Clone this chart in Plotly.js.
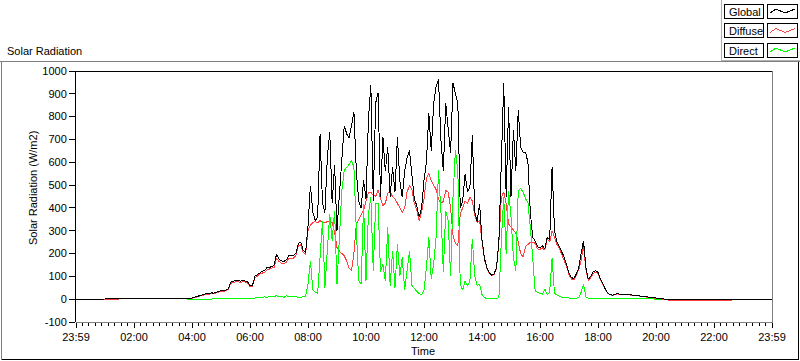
<!DOCTYPE html>
<html><head><meta charset="utf-8">
<script src="https://cdn.plot.ly/plotly-3.0.1.min.js"></script>
<style>
html,body{margin:0;padding:0;background:#fff;}
#chart{width:800px;height:361px;}
.js-line{shape-rendering:crispEdges;}
.shapelayer path{shape-rendering:crispEdges;}
</style></head><body><div id="chart"></div>
<script>
// 5-minute samples starting at gridStart, one row per hour (:00 ... :55)
const gridStart = "03:00";
const stepMinutes = 5;

const globalRad = [
  0,0,0,0,0,0,0,0,0,0,1,3,                       // 03
  5,8,10,14,17,22,25,24,28,26,30,35,             // 04
  38,36,40,45,75,78,80,84,78,82,80,76,           // 05
  60,58,100,108,118,122,125,138,140,142,150,198, // 06
  175,168,165,172,190,190,192,200,245,250,215,205, // 07
  320,498,380,345,360,725,420,380,620,733,420,590, // 08
  300,460,600,760,725,705,760,820,560,430,400,520, // 09
  440,785,940,430,860,905,450,711,560,667,450,579, // 10
  470,711,520,447,560,620,652,540,440,410,360,400, // 11
  520,600,814,650,860,931,963,700,560,858,740,640, // 12
  946,900,858,400,430,550,470,491,718,380,340,418, // 13
  260,180,139,117,105,110,139,256,608,946,450,843, // 14
  450,740,564,828,667,645,645,600,380,271,255,230, // 15
  225,235,220,271,260,579,300,250,230,205,185,150, // 16
  115,95,90,110,135,200,256,140,88,100,120,125,    // 17
  118,90,65,45,28,20,18,20,24,22,20,22,            // 18
  20,18,19,17,16,15,14,12,9,8,7,6,                 // 19
  5,3,1,0,0,0,0,0,0,0,0,0                          // 20
];

const diffuseRad = [
  0,0,0,0,0,0,0,0,0,0,0,2,
  4,7,8,12,15,19,22,21,25,23,27,32,
  35,33,37,42,70,72,75,78,73,77,75,72,
  56,55,94,100,110,114,118,128,132,134,140,180,
  165,158,156,162,178,178,180,190,234,238,205,198,
  300,325,335,340,335,345,335,335,340,338,335,295,
  227,210,200,190,168,135,125,200,330,350,370,390,
  430,465,469,455,450,480,440,410,420,465,470,450,
  440,420,400,380,400,470,498,480,420,390,345,380,
  440,530,550,520,500,480,440,420,430,476,470,400,
  280,245,234,374,400,430,420,447,430,370,335,345,
  255,175,135,115,103,108,135,250,447,470,420,330,
  315,300,290,250,200,185,230,240,250,250,245,220,
  218,225,215,265,250,300,270,240,222,195,175,142,
  108,88,84,103,128,170,235,130,82,95,112,118,
  112,86,62,43,27,19,17,19,23,21,19,21,
  19,17,18,16,15,14,13,11,8,7,6,5,
  4,2,0,0,-3,-5,-5,-5,-5,-5,-5,-5
];

const directRad = [
  null,null,null,null,null,null,null,null,null,null,0,0,
  0,0,0,0,0,1,0,1,1,1,1,1,
  1,1,1,2,2,2,2,3,3,3,2,2,
  2,2,5,6,8,5,10,8,12,10,12,15,
  10,12,8,15,10,12,10,12,8,8,10,12,
  66,168,40,30,25,183,344,51,212,374,256,388,
  66,271,476,564,575,590,608,579,300,80,66,418,
  80,374,447,124,418,420,120,153,80,315,60,212,
  50,242,100,183,40,139,212,60,45,35,25,20,
  40,139,271,90,153,271,564,388,120,388,344,100,
  447,652,564,66,40,80,60,80,264,100,60,66,
  20,7,3,2,2,2,3,7,256,447,200,476,
  359,183,124,476,484,470,440,425,315,153,37,30,
  25,22,44,20,30,180,25,20,15,8,7,5,
  5,4,4,5,6,30,66,10,4,4,4,4,
  3,3,3,2,2,2,2,2,2,2,2,2,
  2,2,2,2,2,1,1,1,1,1,1,1,
  0,0,0,null,null,null,null,null,null,null,null,null
];

// quiet parts of the day outside the sampled grid
const globalHeadTimes = ["00:00"];  const globalHeadVals = [0];
const globalTailTimes = ["24:00"];  const globalTailVals = [0];
const diffuseHeadTimes = ["00:00"]; const diffuseHeadVals = [0];
const diffuseTailTimes = ["22:35","22:40","24:00"]; const diffuseTailVals = [-5,0,0];

const xTickVals = [0,2,4,6,8,10,12,14,16,18,20,22,24];
const xTickText = ["23:59","02:00","04:00","06:00","08:00","10:00","12:00","14:00","16:00","18:00","20:00","22:00","23:59"];
const yTickVals = [-100,0,100,200,300,400,500,600,700,800,900,1000];
const yTickText = ["-100","0","100","200","300","400","500","600","700","800","900","1000"];

const seriesNames = ["Global","Diffuse","Direct"];
const seriesColors = ["#000000","#ff4040","#00ff00"];

function hrs(s){ const p = s.split(":").map(Number); return p[0] + p[1]/60; }
const t0 = hrs(gridStart);
const gridX = globalRad.map((_, i) => t0 + i*stepMinutes/60);

const traces = [
  {name:"Diffuse", x:[...diffuseHeadTimes.map(hrs), ...gridX, ...diffuseTailTimes.map(hrs)],
   y:[...diffuseHeadVals, ...diffuseRad, ...diffuseTailVals],
   mode:"lines", line:{color:seriesColors[1], width:1}, showlegend:false, hoverinfo:"skip"},
  {name:"Global", x:[...globalHeadTimes.map(hrs), ...gridX, ...globalTailTimes.map(hrs)],
   y:[...globalHeadVals, ...globalRad, ...globalTailVals],
   mode:"lines", line:{color:seriesColors[0], width:1}, showlegend:false, hoverinfo:"skip"},
  {name:"Direct", x:gridX, y:directRad, connectgaps:false,
   mode:"lines", line:{color:seriesColors[2], width:1}, showlegend:false, hoverinfo:"skip"}
];

// pixel -> paper helpers (plot area: x 76..772, y 71..322)
const L = 76, R = 772, T = 71, B = 322;
const px = v => (v - L)/(R - L);
const py = v => (B - v)/(B - T);
const FONT = "Liberation Sans, Arial, sans-serif";

const shapes = [];
function line(x0,y0,x1,y1,color){
  shapes.push({type:"line", xref:"paper", yref:"paper", x0:px(x0), y0:py(y0), x1:px(x1), y1:py(y1),
    line:{color:color, width:1}});
}
function rect(x0,y0,x1,y1){
  shapes.push({type:"rect", xref:"paper", yref:"paper", x0:px(x0), y0:py(y0), x1:px(x1), y1:py(y1),
    line:{color:"#000", width:1}, fillcolor:"#fff"});
}
// outer panel
line(0,61.5,800,61.5,"#808080");
line(1.5,61.5,1.5,359.5,"#808080");
line(798.5,61.5,798.5,359.5,"#000");
line(1.5,359.5,798.5,359.5,"#000");
// legend panel
line(721.5,0,721.5,60.5,"#b0b0b0");
line(721.5,60.5,800,60.5,"#b0b0b0");
// plot frame
line(75.5,71,772.5,71,"#000");
line(75.5,71,75.5,322,"#000");
line(75.5,322.5,772.5,322.5,"#808080");
line(772.5,71,772.5,322.5,"#808080");

const annotations = [
  {text:"Solar Radiation", xref:"paper", yref:"paper", x:px(5), y:py(51), xanchor:"left", yanchor:"middle",
   showarrow:false, font:{family:FONT, size:11, color:"#000"}},
  {text:"Time", xref:"paper", yref:"paper", x:px(423), y:py(351), xanchor:"center", yanchor:"middle",
   showarrow:false, font:{family:FONT, size:11, color:"#000"}},
  {text:"Solar Radiation (W/m2)", xref:"paper", yref:"paper", x:px(33), y:py(188), textangle:-90,
   xanchor:"center", yanchor:"middle", showarrow:false, font:{family:FONT, size:11, color:"#000"}}
];

// legend (LabVIEW style boxes)
const rowTops = [4, 23.5, 43];
seriesNames.forEach((n, i) => {
  const top = rowTops[i];
  rect(724.5, top, 763.5, top+14);
  rect(767.5, top, 797.5, top+14);
  const base = top + 9;
  shapes.push({type:"path", xref:"paper", yref:"paper",
    path:`M ${px(770)} ${py(base)} L ${px(776)} ${py(base-4)} L ${px(785)} ${py(base)} L ${px(795)} ${py(base-4)}`,
    line:{color:seriesColors[i], width:1}});
  annotations.push({text:n, xref:"paper", yref:"paper", x:px(726.5), y:py(top+7.5), xanchor:"left", yanchor:"middle",
    showarrow:false, font:{family:FONT, size:11, color:"#000"}});
});

const layout = {
  width:800, height:361,
  margin:{l:L, r:800-R, t:T, b:361-B, pad:0},
  paper_bgcolor:"#fff", plot_bgcolor:"#fff",
  showlegend:false,
  xaxis:{range:[0,24], tickvals:xTickVals, ticktext:xTickText, ticks:"outside", ticklen:5,
    tickcolor:"#000", tickwidth:1, showgrid:false, zeroline:false, showline:false, fixedrange:true,
    tickfont:{family:FONT, size:11, color:"#000"},
    minor:{dtick:2/9, tick0:0, ticks:"outside", ticklen:3, tickcolor:"#000", tickwidth:1, showgrid:false}},
  yaxis:{range:[-100,1000], tickvals:yTickVals, ticktext:yTickText, ticks:"outside", ticklen:6,
    tickcolor:"#000", tickwidth:1, showgrid:false, zeroline:false, showline:false, fixedrange:true,
    tickfont:{family:FONT, size:11, color:"#000"}},
  shapes:shapes,
  annotations:annotations
};

Plotly.newPlot("chart", traces, layout, {staticPlot:true, displayModeBar:false});
</script></body></html>
